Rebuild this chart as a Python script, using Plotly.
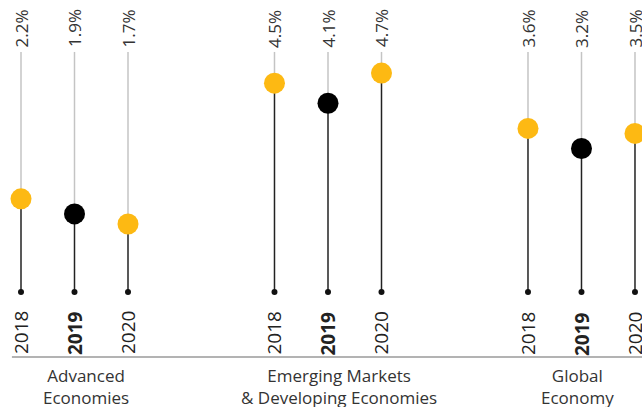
import plotly.graph_objects as go

groups = ["Advanced<br>Economies", "Emerging Markets<br>& Developing Economies", "Global<br>Economy"]
years = ["2018", "2019", "2020"]
growth = [
    [2.2, 1.9, 1.7],
    [4.5, 4.1, 4.7],
    [3.6, 3.2, 3.5],
]

YELLOW = "#FDB913"
GROUP_STEP = 4.738
BASE = 0.35      # value where stems start
TOP = 5.12       # value where grey guide lines end
LABEL_Y = 5.17
X_MAX = 11.607

fig = go.Figure()
ann = []

for g, vals in enumerate(growth):
    for j, v in enumerate(vals):
        x = g * GROUP_STEP + j
        # grey guide above the dot
        fig.add_trace(go.Scatter(x=[x, x], y=[v, TOP], mode="lines",
                                 line=dict(color="#c4c4c4", width=1.5),
                                 hoverinfo="skip", showlegend=False))
        # dark stem from baseline to the dot
        fig.add_trace(go.Scatter(x=[x, x], y=[BASE, v], mode="lines",
                                 line=dict(color="#222222", width=1.5),
                                 hoverinfo="skip", showlegend=False))
        # baseline dot
        fig.add_trace(go.Scatter(x=[x], y=[BASE], mode="markers",
                                 marker=dict(color="#111111", size=6),
                                 hoverinfo="skip", showlegend=False))
        is_current = years[j] == "2019"
        fig.add_trace(go.Scatter(x=[x], y=[v], mode="markers",
                                 marker=dict(color="#000000" if is_current else YELLOW,
                                             size=21, line=dict(width=0)),
                                 hovertemplate=f"{years[j]}: {v}%<extra></extra>",
                                 showlegend=False))
        ann.append(dict(x=x, y=LABEL_Y, text=f"{v}%", textangle=-90,
                        xanchor="center", yanchor="bottom", showarrow=False,
                        font=dict(size=17, color="#333333")))
        ann.append(dict(x=x, y=0.0, text=f"<b>{years[j]}</b>" if is_current else years[j],
                        textangle=-90, xanchor="center", yanchor="top", showarrow=False,
                        font=dict(size=19, color="#222222")))
    # group caption, kept clear of the right edge
    gx = min(g * GROUP_STEP + 1.21, X_MAX - 1.2)
    ann.append(dict(x=gx, y=-1.04, text=groups[g], xanchor="center",
                    yanchor="top", showarrow=False, align="center",
                    font=dict(size=17, color="#333333")))

fig.add_shape(type="line", x0=-0.17, x1=12, y0=-0.944, y1=-0.944,
              line=dict(color="#9a9a9a", width=1.5))

fig.update_layout(
    width=642, height=407,
    margin=dict(l=0, r=0, t=0, b=0),
    paper_bgcolor="white", plot_bgcolor="white",
    font=dict(family="Open Sans, sans-serif"),
    xaxis=dict(range=[-0.3925, X_MAX], visible=False, fixedrange=True),
    yaxis=dict(range=[-1.938, 6.153], visible=False, fixedrange=True),
    annotations=ann,
)

fig.write_html("out.html")
